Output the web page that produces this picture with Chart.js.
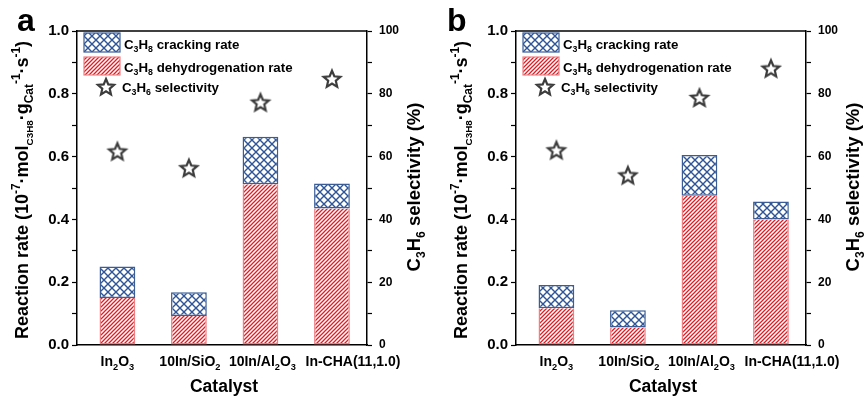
<!DOCTYPE html>
<html>
<head>
<meta charset="utf-8">
<script src="https://cdn.jsdelivr.net/npm/chart.js@4.4.1/dist/chart.umd.min.js"></script>
<style>
  html, body { margin: 0; padding: 0; background: #fff; }
  #wrap { position: relative; width: 865px; height: 398px; overflow: hidden; }
  canvas { position: absolute; top: 0; }
</style>
</head>
<body>
<div id="wrap">
  <canvas id="ca" width="439" height="398" style="left:0px"></canvas>
  <canvas id="cb" width="426" height="398" style="left:439px"></canvas>
</div>
<script>
// ---------- data ----------
const categories = ['In_{2}O_{3}', '10In/SiO_{2}', '10In/Al_{2}O_{3}', 'In-CHA(11,1.0)'];
const leftTicks = [0.0, 0.2, 0.4, 0.6, 0.8, 1.0];
const rightTicks = [0, 20, 40, 60, 80, 100];

// panel a
const dehydroA = [0.150, 0.092, 0.512, 0.435];
const crackA   = [0.100, 0.076, 0.151, 0.079];
const selA     = [61.6, 56.3, 77.2, 84.7];
// panel b
const dehydroB = [0.117, 0.056, 0.475, 0.400];
const crackB   = [0.074, 0.055, 0.130, 0.057];
const selB     = [62.0, 54.0, 78.7, 88.0];

const legendLabels = ['C_{3}H_{8} cracking rate', 'C_{3}H_{8} dehydrogenation rate', 'C_{3}H_{6} selectivity'];
const leftTitle = 'Reaction rate (10^{-7}·mol_{C3H8}·g_{Cat}^{-1}·s^{-1})';
const rightTitle = 'C_{3}H_{6} selectivity (%)';
const xTitle = 'Catalyst';

// ---------- styles ----------
const FONT = '"Liberation Sans", Arial, Helvetica, sans-serif';
const RED = '#dc1f26';
const RED_BORDER = '#ee8084';
const BLUE = '#2e5596';
const BLUE_BORDER = '#3a5d96';
const LABEL_SHIFT = [0, 1, 2, 21];

function makeRedPattern() {
  const c = document.createElement('canvas');
  const s = 4; c.width = s; c.height = s;
  const g = c.getContext('2d');
  g.fillStyle = '#fff'; g.fillRect(0, 0, s, s);
  g.strokeStyle = RED; g.lineWidth = 1.3;
  g.beginPath();
  g.moveTo(-1, s + 1); g.lineTo(s + 1, -1);
  g.moveTo(-1, 1); g.lineTo(1, -1);
  g.moveTo(s - 1, s + 1); g.lineTo(s + 1, s - 1);
  g.stroke();
  return g.createPattern(c, 'repeat');
}
function makeBluePattern() {
  const c = document.createElement('canvas');
  const s = 8; c.width = s; c.height = s;
  const g = c.getContext('2d');
  g.fillStyle = '#fff'; g.fillRect(0, 0, s, s);
  g.strokeStyle = BLUE; g.lineWidth = 1.4;
  g.beginPath();
  g.moveTo(-1, -1); g.lineTo(s + 1, s + 1);
  g.moveTo(-1, s + 1); g.lineTo(s + 1, -1);
  g.stroke();
  return g.createPattern(c, 'repeat');
}
function makeStar() {
  const c = document.createElement('canvas');
  c.width = 24; c.height = 24;
  const g = c.getContext('2d');
  drawStar(g, 12, 12.5, 8.8, 4.0);
  return c;
}
function drawStar(g, cx, cy, R, r) {
  g.save();
  g.beginPath();
  for (let i = 0; i < 10; i++) {
    const ang = -Math.PI / 2 + i * Math.PI / 5;
    const rad = i % 2 === 0 ? R : r;
    const x = cx + rad * Math.cos(ang), y = cy + rad * Math.sin(ang);
    if (i === 0) g.moveTo(x, y); else g.lineTo(x, y);
  }
  g.closePath();
  g.fillStyle = '#fff'; g.fill();
  g.lineJoin = 'miter';
  g.strokeStyle = '#3c3c3c'; g.lineWidth = 2.2; g.stroke();
  g.restore();
}

// ---------- rich text ----------
function parseRich(str) {
  const parts = str.split(/(\^\{[^}]*\}|_\{[^}]*\})/g).filter(p => p.length);
  return parts.map(p => {
    if (p.startsWith('^{')) return { t: p.slice(2, -1), k: 'sup' };
    if (p.startsWith('_{')) return { t: p.slice(2, -1), k: 'sub' };
    return { t: p, k: 'n' };
  });
}
function segFont(k, size, t) {
  let s = size;
  if (k !== 'n') s = size * (t.length > 3 && /\d/.test(t) && k === 'sub' ? 0.55 : 0.66);
  return { font: 'bold ' + s.toFixed(2) + 'px ' + FONT, s };
}
function richWidth(ctx, str, size) {
  let w = 0;
  for (const seg of parseRich(str)) {
    const f = segFont(seg.k, size, seg.t);
    ctx.font = f.font; w += ctx.measureText(seg.t).width;
  }
  return w;
}
function drawRich(ctx, str, x, y, size, align) {
  const w = richWidth(ctx, str, size);
  let cx = align === 'center' ? x - w / 2 : x;
  ctx.textBaseline = 'alphabetic';
  ctx.textAlign = 'left';
  ctx.fillStyle = '#000';
  for (const seg of parseRich(str)) {
    const f = segFont(seg.k, size, seg.t);
    ctx.font = f.font;
    let dy = 0;
    if (seg.k === 'sub') dy = size * 0.26;
    if (seg.k === 'sup') dy = -size * 0.42;
    ctx.fillText(seg.t, cx, y + dy);
    cx += ctx.measureText(seg.t).width;
  }
}

// ---------- decoration plugin ----------
const deco = {
  id: 'deco',
  afterDraw(chart) {
    const o = chart.options.plugins.deco;
    const ctx = chart.ctx;
    const a = chart.chartArea;
    const xs = chart.scales.x;
    ctx.save();
    // top frame line
    ctx.strokeStyle = '#000'; ctx.lineWidth = 1.5;
    ctx.beginPath(); ctx.moveTo(a.left, a.top); ctx.lineTo(a.right, a.top); ctx.stroke();

    // category labels
    categories.forEach((lab, i) => {
      drawRich(ctx, lab, xs.getPixelForValue(i) + LABEL_SHIFT[i], 366, 14, 'center');
    });
    // x title
    drawRich(ctx, xTitle, (a.left + a.right) / 2 + 2, 392, 17.5, 'center');

    // left title
    ctx.save();
    ctx.translate(28, 190); ctx.rotate(-Math.PI / 2);
    drawRich(ctx, leftTitle, 0, 0, 18, 'center');
    ctx.restore();
    // right title
    ctx.save();
    ctx.translate(a.right + 53, 187); ctx.rotate(-Math.PI / 2);
    drawRich(ctx, rightTitle, 0, 0, 18.5, 'center');
    ctx.restore();

    // panel letter
    ctx.font = 'bold 32px ' + FONT; ctx.fillStyle = '#000';
    ctx.textAlign = 'left'; ctx.textBaseline = 'alphabetic';
    ctx.fillText(o.letter, o.letterX, 31);

    // legend
    const lx = a.left + 7;
    ctx.fillStyle = o.blue; ctx.fillRect(lx, 33, 36, 19);
    ctx.strokeStyle = BLUE_BORDER; ctx.lineWidth = 1.2; ctx.strokeRect(lx, 33, 36, 19);
    ctx.fillStyle = o.red; ctx.fillRect(lx, 57, 36, 18);
    ctx.strokeStyle = RED_BORDER; ctx.lineWidth = 1.2; ctx.strokeRect(lx, 57, 36, 18);
    drawStar(ctx, lx + 22, 87.5, 8.5, 3.9);
    drawRich(ctx, legendLabels[0], lx + 40, 48.5, 13.3, 'left');
    drawRich(ctx, legendLabels[1], lx + 40, 72, 13.3, 'left');
    drawRich(ctx, legendLabels[2], lx + 38, 92, 13.3, 'left');
    ctx.restore();
  }
};

function makeChart(id, dehydro, crack, sel, letter, letterX) {
  const canvas = document.getElementById(id);
  const W = canvas.width;
  const red = makeRedPattern(), blue = makeBluePattern();
  const star = makeStar();
  const pts = arr => arr.map((v, i) => ({ x: i, y: v }));
  return new Chart(canvas, {
    type: 'bar',
    data: {
      datasets: [
        { label: 'C3H8 dehydrogenation rate', data: pts(dehydro), yAxisID: 'y', stack: 's',
          backgroundColor: red, borderColor: RED_BORDER, borderWidth: 1.5, borderSkipped: 'end',
          categoryPercentage: 1.0, barPercentage: 0.5 },
        { label: 'C3H8 cracking rate', data: pts(crack), yAxisID: 'y', stack: 's',
          backgroundColor: blue, borderColor: BLUE_BORDER, borderWidth: 1.5, borderSkipped: false,
          categoryPercentage: 1.0, barPercentage: 0.5 },
        { type: 'line', label: 'C3H6 selectivity', data: pts(sel), yAxisID: 'y2', showLine: false,
          pointStyle: star, pointRadius: 10, pointHoverRadius: 10 }
      ]
    },
    options: {
      responsive: false,
      maintainAspectRatio: false,
      animation: false,
      events: [],
      layout: { padding: { top: 31, bottom: 0, left: 0, right: 0 } },
      plugins: {
        legend: { display: false },
        tooltip: { enabled: false },
        deco: { letter, letterX, red, blue }
      },
      scales: {
        x: {
          type: 'linear', stacked: true, offset: false, min: -0.565, max: 3.49,
          grid: { display: false, drawTicks: false, offset: false },
          border: { display: true, color: '#000', width: 1.5 },
          ticks: { display: false },
          afterFit: s => { s.height = 53; }
        },
        y: {
          position: 'left', stacked: true, min: 0, max: 1,
          ticks: {
            stepSize: 0.1,
            callback: (v, i) => (i % 2 === 0 ? leftTicks[i / 2].toFixed(1) : ''),
            font: { family: FONT, size: 15, weight: 'bold' }, color: '#000', padding: 3
          },
          grid: { drawOnChartArea: false, tickLength: 5, tickColor: '#000', tickWidth: 1.2 },
          border: { display: true, color: '#000', width: 1.5 },
          afterFit: s => { s.width = 77; }
        },
        y2: {
          position: 'right', stacked: false, min: 0, max: 100,
          ticks: {
            stepSize: 10,
            callback: (v, i) => (i % 2 === 0 ? String(rightTicks[i / 2]) : ''),
            font: { family: FONT, size: 12, weight: 'bold' }, color: '#000', padding: 7
          },
          grid: { drawOnChartArea: false, tickLength: 5, tickColor: '#000', tickWidth: 1.2 },
          border: { display: true, color: '#000', width: 1.5 },
          afterFit: s => { s.width = W - 367; }
        }
      }
    },
    plugins: [deco]
  });
}

makeChart('ca', dehydroA, crackA, selA, 'a', 17);
makeChart('cb', dehydroB, crackB, selB, 'b', 8);
</script>
</body>
</html>
